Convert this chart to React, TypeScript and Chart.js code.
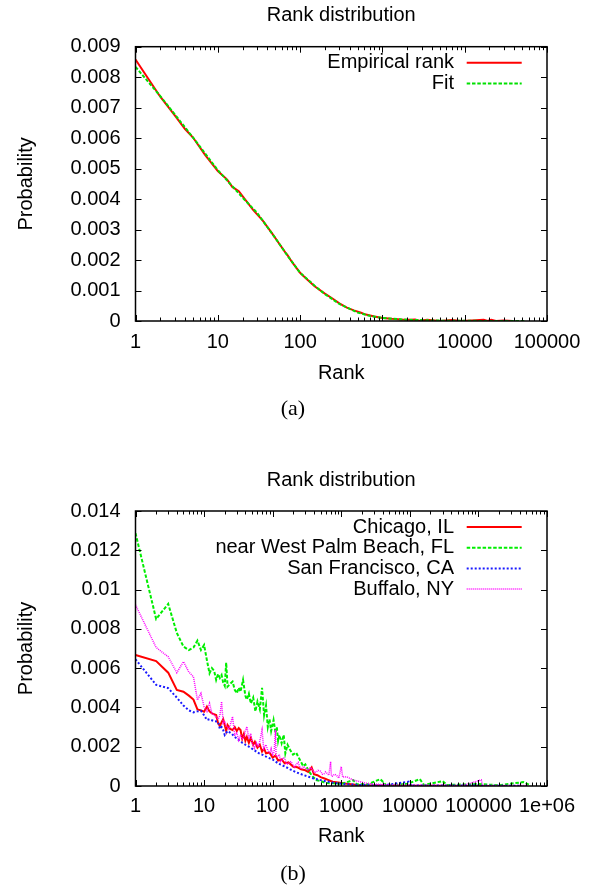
import React, { useEffect, useRef } from "react";
import { Chart, registerables } from "chart.js";

Chart.register(...registerables);

const FONT = '"Liberation Sans", Arial, Helvetica, sans-serif';
const SERIF = '"Liberation Serif", "Times New Roman", serif';

const titleText = "Rank distribution";
const xAxisTitle = "Rank";
const yAxisTitle = "Probability";

// ---------- Chart (a) ----------
const xTicksA = [1, 10, 100, 1000, 10000, 100000];
const xTickLabelsA = ["1", "10", "100", "1000", "10000", "100000"];
const yTicksA = [0, 0.001, 0.002, 0.003, 0.004, 0.005, 0.006, 0.007, 0.008, 0.009];
const yTickLabelsA = ["0", "0.001", "0.002", "0.003", "0.004", "0.005", "0.006", "0.007", "0.008", "0.009"];

const empiricalRanks = [1, 2, 3, 4, 5, 7, 10, 13, 15, 18, 22, 27, 35, 45, 55, 66, 70, 80, 100, 120, 150, 200, 250, 300, 370, 450, 550, 630, 800, 1000, 1300, 1700, 2200, 2500, 2800, 3500, 5000, 7000, 9000, 12000, 17000, 19000, 21000, 24000, 30000, 38000];
const empiricalProb = [0.00858, 0.00736, 0.00675, 0.0063, 0.00602, 0.00545, 0.00492, 0.00464, 0.0044, 0.00426, 0.00395, 0.00364, 0.0033, 0.0029, 0.00256, 0.00225, 0.00217, 0.00193, 0.00158, 0.00138, 0.00114, 0.0009, 0.00073, 0.00058, 0.00044, 0.00035, 0.00027, 0.00021, 0.00015, 0.0001, 0.00007, 0.00005, 0.00004, 0.00005, 0.00001, 0.00004, 0.0, 0.00003, 0.0, 0.00002, 0.00004, 0.0, 0.00004, 0.0, 0.00002, 0.0];

const fitRanks = [1, 2, 3, 5, 10, 20, 30, 50, 70, 100, 150, 200, 300, 500, 700, 1000, 2000, 5000, 10000, 55000];
const fitProb = [0.00834, 0.00738, 0.00678, 0.00602, 0.00495, 0.00405, 0.00355, 0.00272, 0.00215, 0.00158, 0.00116, 0.00088, 0.00056, 0.00028, 0.00017, 0.0001, 0.00004, 0.000012, 0.000005, 0.0000005];

// ---------- Chart (b) ----------
const xTicksB = [1, 10, 100, 1000, 10000, 100000, 1000000];
const xTickLabelsB = ["1", "10", "100", "1000", "10000", "100000", "1e+06"];
const yTicksB = [0, 0.002, 0.004, 0.006, 0.008, 0.01, 0.012, 0.014];
const yTickLabelsB = ["0", "0.002", "0.004", "0.006", "0.008", "0.01", "0.012", "0.014"];

const chicagoRanks = [1, 2, 3, 4, 5, 6, 7, 8, 9, 10, 11, 12, 13, 15, 16, 17, 18, 19, 20, 21, 22, 24, 26, 28, 30, 32, 34, 36, 38, 40, 42, 45, 48, 52, 55, 60, 65, 70, 75, 80, 90, 100, 110, 120, 135, 150, 170, 200, 230, 260, 300, 330, 370, 400, 450, 500, 570, 640, 750, 900, 1200, 1600, 2500, 4000, 10000, 30000, 100000, 250000];
const chicagoProb = [0.00667, 0.00636, 0.00577, 0.00489, 0.0048, 0.0046, 0.0044, 0.0039, 0.00385, 0.00378, 0.00404, 0.0038, 0.0037, 0.00361, 0.0032, 0.00305, 0.00325, 0.0034, 0.0031, 0.0028, 0.0031, 0.0029, 0.00285, 0.003, 0.0028, 0.00295, 0.00285, 0.0024, 0.00265, 0.0023, 0.0025, 0.0022, 0.00245, 0.0021, 0.00225, 0.00195, 0.0021, 0.00175, 0.0019, 0.00166, 0.0017, 0.00145, 0.00155, 0.0013, 0.00135, 0.00115, 0.0012, 0.00098, 0.00095, 0.00085, 0.0008, 0.00072, 0.00095, 0.0006, 0.00055, 0.00045, 0.00038, 0.00031, 0.00022, 0.00018, 0.00012, 0.00006, 0.00003, 0.00002, 0.00001, 0.00001, 0.000005, 0.000005];

const palmRanks = [1, 2, 3, 4, 5, 6, 7, 8, 9, 10, 11, 12, 13, 14, 15, 16, 17, 18, 19, 20, 21, 22, 24, 26, 28, 30, 32, 34, 37, 40, 42, 45, 48, 52, 56, 60, 65, 70, 75, 80, 85, 90, 95, 103, 110, 115, 120, 125, 135, 145, 153, 165, 180, 198, 220, 250, 280, 300, 330, 370, 430, 500, 600, 760, 1000, 1500, 1700, 2500, 3700, 4500, 9000, 14000, 16000, 30000, 35000, 100000, 200000, 450000, 560000];
const palmProb = [12.87e-3, 8.5e-3, 9.27e-3, 7.8e-3, 7.1e-3, 6.92e-3, 7.05e-3, 7.4e-3, 6.92e-3, 7.18e-3, 6.4e-3, 5.74e-3, 6.0e-3, 5.87e-3, 5.4e-3, 5.7e-3, 5.5e-3, 5.65e-3, 5.26e-3, 5.1e-3, 6.28e-3, 5.06e-3, 5.2e-3, 5.31e-3, 4.9e-3, 4.72e-3, 5.0e-3, 4.8e-3, 5.4e-3, 4.6e-3, 4.4e-3, 4.7e-3, 4.2e-3, 4.5e-3, 3.8e-3, 4.3e-3, 3.9e-3, 5.0e-3, 3.6e-3, 4.1e-3, 3.0e-3, 3.4e-3, 2.8e-3, 3.36e-3, 2.7e-3, 3.0e-3, 2.3e-3, 2.6e-3, 2.18e-3, 2.6e-3, 1.66e-3, 2.1e-3, 1.83e-3, 1.6e-3, 1.7e-3, 1.32e-3, 1.0e-3, 1.1e-3, 0.8e-3, 0.55e-3, 0.3e-3, 0.25e-3, 0.15e-3, 0.14e-3, 0.1e-3, 0.3e-3, 0.08e-3, 0.1e-3, 0.35e-3, 0.05e-3, 0.1e-3, 0.35e-3, 0.05e-3, 0.25e-3, 0.05e-3, 0.1e-3, 0.04e-3, 0.2e-3, 0.05e-3];

const sfRanks = [1, 2, 3, 4, 5, 6, 7, 8, 9, 10, 11, 12, 14, 16, 17, 18, 19, 20, 22, 25, 28, 32, 36, 40, 45, 50, 54, 60, 70, 80, 91, 100, 120, 153, 180, 220, 270, 333, 400, 500, 640, 800, 1200, 2000, 4000, 9600, 10500, 30000, 100000, 200000, 400000];
const sfProb = [0.00645, 0.00515, 0.00498, 0.0045, 0.0041, 0.00385, 0.00375, 0.0038, 0.00383, 0.0036, 0.00336, 0.0034, 0.0033, 0.00327, 0.0029, 0.003, 0.00285, 0.0026, 0.0028, 0.00268, 0.0025, 0.00234, 0.0022, 0.0021, 0.002, 0.0019, 0.00183, 0.0017, 0.0016, 0.0015, 0.00141, 0.00135, 0.00115, 0.00098, 0.00085, 0.0007, 0.00058, 0.00047, 0.00038, 0.0003, 0.00022, 0.00015, 0.00009, 0.00005, 0.00003, 0.00022, 0.00002, 0.00002, 0.00002, 0.00001, 0.00001];

const buffaloRanks = [1, 2, 3, 4, 5, 6, 7, 8, 9, 10, 11, 12, 13, 14, 16, 17, 18, 19, 20, 21, 22, 23, 24, 26, 28, 30, 32, 34, 36, 38, 40, 42, 45, 48, 50, 54, 58, 62, 66, 70, 74, 80, 85, 91, 95, 100, 105, 110, 112, 118, 125, 130, 135, 142, 150, 160, 170, 185, 198, 210, 220, 235, 250, 265, 280, 300, 333, 355, 380, 400, 430, 460, 500, 530, 560, 590, 620, 660, 700, 720, 740, 800, 850, 920, 1000, 1050, 1200, 1500, 2300, 3000, 5000, 10000, 30000, 60000, 110000, 115000, 300000, 520000];
const buffaloProb = [9.22e-3, 7.05e-3, 6.58e-3, 5.77e-3, 6.33e-3, 5.8e-3, 5.56e-3, 4.38e-3, 4.72e-3, 4.04e-3, 3.8e-3, 4.21e-3, 3.7e-3, 3.61e-3, 3.4e-3, 3.6e-3, 4.29e-3, 3.2e-3, 3.3e-3, 3.02e-3, 3.0e-3, 2.9e-3, 3.1e-3, 3.53e-3, 2.6e-3, 2.7e-3, 2.34e-3, 2.6e-3, 2.4e-3, 2.5e-3, 2.8e-3, 3.02e-3, 2.4e-3, 2.68e-3, 2.2e-3, 1.92e-3, 2.2e-3, 2.0e-3, 2.4e-3, 2.85e-3, 1.9e-3, 2.1e-3, 1.8e-3, 1.66e-3, 1.9e-3, 1.6e-3, 1.75e-3, 2.85e-3, 1.5e-3, 1.49e-3, 1.6e-3, 1.25e-3, 1.3e-3, 1.45e-3, 1.4e-3, 1.1e-3, 1.15e-3, 1.25e-3, 1.07e-3, 0.95e-3, 1.1e-3, 1.2e-3, 0.95e-3, 0.85e-3, 1.0e-3, 0.9e-3, 0.81e-3, 0.95e-3, 0.85e-3, 0.7e-3, 0.7e-3, 0.8e-3, 0.75e-3, 0.6e-3, 0.6e-3, 0.72e-3, 0.65e-3, 0.55e-3, 1.24e-3, 0.5e-3, 0.5e-3, 0.6e-3, 0.55e-3, 0.4e-3, 0.98e-3, 0.45e-3, 0.47e-3, 0.3e-3, 0.14e-3, 0.1e-3, 0.05e-3, 0.04e-3, 0.03e-3, 0.03e-3, 0.31e-3, 0.03e-3, 0.02e-3, 0.02e-3];

const toPoints = (xs: number[], ys: number[]) => xs.map((x, i) => ({ x, y: ys[i] }));

type PanelSpec = {
  width: number;
  height: number;
  titleY: number;
  padTop: number;
  padBottom: number;
  xHeight: number;
  xLabelPad: number;
  xTicks: number[];
  xTickLabels: string[];
  xMax: number;
  yTicks: number[];
  yTickLabels: string[];
  yMax: number;
  datasets: any[];
};

function makeDecorPlugin(spec: PanelSpec) {
  return {
    id: "gnuDecor",
    afterDraw(chart: any) {
      const ctx = chart.ctx as CanvasRenderingContext2D;
      const { left, right, top, bottom } = chart.chartArea;
      const xs = chart.scales.x;
      const ys = chart.scales.y;
      ctx.save();
      ctx.fillStyle = "#000";
      ctx.font = `20px ${FONT}`;
      ctx.textAlign = "center";
      ctx.textBaseline = "middle";
      ctx.fillText(titleText, (left + right) / 2, spec.titleY);

      // ticks (inward, all sides)
      ctx.strokeStyle = "#000";
      ctx.lineWidth = 1;
      ctx.beginPath();
      ys.ticks.forEach((t: any) => {
        const y = Math.round(ys.getPixelForValue(t.value)) + 0.5;
        ctx.moveTo(left, y);
        ctx.lineTo(left + 6, y);
        ctx.moveTo(right, y);
        ctx.lineTo(right - 6, y);
      });
      for (let d = 1; d <= xs.max; d *= 10) {
        for (let m = 1; m <= 9; m++) {
          const v = d * m;
          if (v < xs.min || v > xs.max) continue;
          const x = Math.round(xs.getPixelForValue(v)) + 0.5;
          const len = m === 1 ? 6 : 3.5;
          ctx.moveTo(x, bottom);
          ctx.lineTo(x, bottom - len);
          ctx.moveTo(x, top);
          ctx.lineTo(x, top + len);
        }
      }
      ctx.stroke();

      // frame
      ctx.lineWidth = 1.5;
      ctx.strokeRect(left, top, right - left, bottom - top);

      // legend (gnuplot style: right-aligned text, sample to the right)
      ctx.textAlign = "right";
      chart.data.datasets.forEach((ds: any, i: number) => {
        const y = top + 16 + i * 20.7;
        ctx.fillStyle = "#000";
        ctx.fillText(ds.label, right - 93, y);
        ctx.beginPath();
        ctx.strokeStyle = ds.borderColor;
        ctx.lineWidth = ds.borderWidth;
        ctx.setLineDash(ds.borderDash || []);
        ctx.moveTo(right - 80.3, y);
        ctx.lineTo(right - 25.3, y);
        ctx.stroke();
        ctx.setLineDash([]);
      });
      ctx.restore();
    },
  };
}

function Panel({ spec }: { spec: PanelSpec }) {
  const ref = useRef<HTMLCanvasElement | null>(null);
  useEffect(() => {
    if (!ref.current) return;
    const font = { family: FONT, size: 20 };
    const chart = new Chart(ref.current, {
      type: "line",
      data: { datasets: spec.datasets },
      options: {
        animation: false,
        responsive: false,
        events: [],
        layout: { padding: { top: spec.padTop, right: 52, bottom: spec.padBottom, left: 10 } },
        plugins: { legend: { display: false }, title: { display: false }, tooltip: { enabled: false } },
        elements: { point: { radius: 0 }, line: { tension: 0 } },
        scales: {
          x: {
            type: "logarithmic",
            min: 1,
            max: spec.xMax,
            grid: { display: false, drawTicks: false, tickLength: 0 },
            border: { display: false },
            afterBuildTicks: (s: any) => {
              s.ticks = spec.xTicks.map((v) => ({ value: v }));
            },
            afterFit: (s: any) => {
              s.height = spec.xHeight;
            },
            ticks: {
              autoSkip: false,
              maxRotation: 0,
              minRotation: 0,
              padding: spec.xLabelPad,
              color: "#000",
              font,
              callback: (_v: any, i: number) => spec.xTickLabels[i],
            },
            title: { display: true, text: xAxisTitle, color: "#000", font, padding: { top: 4, bottom: 4 } },
          },
          y: {
            type: "linear",
            min: 0,
            max: spec.yMax,
            grid: { display: false, drawTicks: false, tickLength: 0 },
            border: { display: false },
            afterBuildTicks: (s: any) => {
              s.ticks = spec.yTicks.map((v) => ({ value: v }));
            },
            afterFit: (s: any) => {
              s.width = 125.5;
            },
            ticks: {
              padding: 15,
              color: "#000",
              font,
              callback: (_v: any, i: number) => spec.yTickLabels[i],
            },
            title: { display: true, text: yAxisTitle, color: "#000", font, padding: { top: 4, bottom: 4 } },
          },
        },
      } as any,
      plugins: [makeDecorPlugin(spec)],
    });
    return () => chart.destroy();
  }, [spec]);
  return <canvas ref={ref} width={spec.width} height={spec.height} style={{ display: "block" }} />;
}

const specA: PanelSpec = {
  width: 599,
  height: 400,
  titleY: 15.5,
  padTop: 46.7,
  padBottom: 10.5,
  xHeight: 68.5,
  xLabelPad: 9.5,
  xTicks: xTicksA,
  xTickLabels: xTickLabelsA,
  xMax: 100000,
  yTicks: yTicksA,
  yTickLabels: yTickLabelsA,
  yMax: 0.009,
  datasets: [
    { label: "Empirical rank", data: toPoints(empiricalRanks, empiricalProb), borderColor: "#ff0000", borderWidth: 2, order: 1, fill: false },
    { label: "Fit", data: toPoints(fitRanks, fitProb), borderColor: "#00e000", borderWidth: 2, borderDash: [3.5, 1.8], order: 0, fill: false },
  ],
};

const specB: PanelSpec = {
  width: 599,
  height: 421,
  titleY: 15,
  padTop: 46,
  padBottom: 33.3,
  xHeight: 66.7,
  xLabelPad: 8.7,
  xTicks: xTicksB,
  xTickLabels: xTickLabelsB,
  xMax: 1000000,
  yTicks: yTicksB,
  yTickLabels: yTickLabelsB,
  yMax: 0.014,
  datasets: [
    { label: "Chicago, IL", data: toPoints(chicagoRanks, chicagoProb), borderColor: "#ff0000", borderWidth: 2, order: 3, fill: false },
    { label: "near West Palm Beach, FL", data: toPoints(palmRanks, palmProb), borderColor: "#00ee00", borderWidth: 2, borderDash: [3.5, 1.8], order: 2, fill: false },
    { label: "San Francisco, CA", data: toPoints(sfRanks, sfProb), borderColor: "#1a1aff", borderWidth: 2, borderDash: [2, 2], order: 1, fill: false },
    { label: "Buffalo, NY", data: toPoints(buffaloRanks, buffaloProb), borderColor: "#ff00ff", borderWidth: 1.5, borderDash: [1, 1], order: 0, fill: false },
  ],
};

export default function App() {
  return (
    <div style={{ position: "absolute", left: 0, top: 0, width: 599, height: 886, background: "#fff" }}>
      <div style={{ position: "absolute", left: 0, top: 0 }}>
        <Panel spec={specA} />
      </div>
      <div style={{ position: "absolute", left: 0, top: 465 }}>
        <Panel spec={specB} />
      </div>
      <div style={{ position: "absolute", left: 243, width: 100, top: 397, height: 22, lineHeight: "22px", textAlign: "center", fontFamily: SERIF, fontSize: 22, color: "#000" }}>(a)</div>
      <div style={{ position: "absolute", left: 243, width: 100, top: 862, height: 22, lineHeight: "22px", textAlign: "center", fontFamily: SERIF, fontSize: 22, color: "#000" }}>(b)</div>
    </div>
  );
}
